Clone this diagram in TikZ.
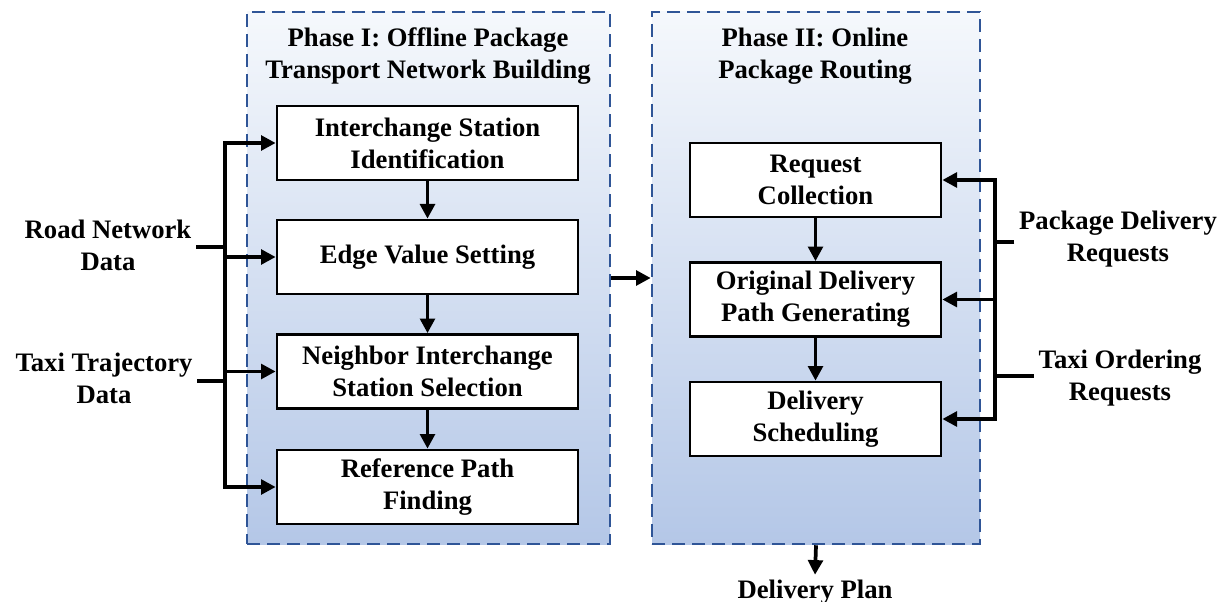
\documentclass[tikz,border=0pt]{standalone}
\usepackage{fontspec}
\setmainfont{Liberation Serif}
\usepackage{xcolor}
\usetikzlibrary{arrows.meta}

\definecolor{phaseline}{HTML}{2F5597}
\definecolor{phasetop}{HTML}{F5F8FC}
\definecolor{phasebot}{HTML}{B4C7E7}

\begin{document}
\begin{tikzpicture}[x=0.75pt, y=-0.75pt,
    every node/.style = {font=\fontsize{20}{24}\selectfont\bfseries, align=center},
    phase/.style      = {draw=phaseline, line width=1.9pt,
                         dash pattern=on 9.75pt off 5.25pt,
                         top color=phasetop, bottom color=phasebot,
                         inner sep=0pt},
    stepbox/.style    = {draw, fill=white, line width=2pt,
                         minimum height=55.5pt, inner sep=2pt},
    wire/.style       = {line width=2.8pt},
    flow/.style       = {wire, -{Triangle[length=11pt, width=11pt]}}]
  \useasboundingbox (0,0) rectangle (1219,602);

% containers
\node[phase, minimum width=272.25pt, minimum height=399pt] (phaseA) at (428.5,278) {};
\node[phase, minimum width=246pt,    minimum height=399pt] (phaseB) at (816,278) {};

\node (titleA) at (428,56) {Phase I: Offline Package\\Transport Network Building};
\node (titleB) at (815,56) {Phase II: Online\\Package Routing};

% phase I
\node[stepbox, minimum width=225.75pt] (ident) at (427.5,143)   {Interchange Station\\Identification};
\node[stepbox, minimum width=225.75pt] (edge)  at (427.5,257)   {Edge Value Setting};
\node[stepbox, minimum width=225.75pt] (nbr)   at (427.5,371.5) {Neighbor Interchange\\Station Selection};
\node[stepbox, minimum width=225.75pt] (ref)   at (427.5,487)   {Reference Path\\Finding};

% phase II
\node[stepbox, minimum width=188.25pt] (collect) at (815.5,180)   {Request\\Collection};
\node[stepbox, minimum width=188.25pt] (orig)    at (815.5,299.5) {Original Delivery\\Path Generating};
\node[stepbox, minimum width=188.25pt] (sched)   at (815.5,419)   {Delivery\\Scheduling};

% inputs and output
\node (road)  at (108,245)  {Road Network\\Data};
\node (traj)  at (104,378)  {Taxi Trajectory\\Data};
\node (pkg)   at (1118,239) {Package Delivery\\Requests};
\node (order) at (1120,378) {Taxi Ordering\\Requests};
\node[anchor=base] (plan) at (815,598) {Delivery Plan};

\coordinate (lbus) at (225,0);
\coordinate (rbus) at (995,0);

\draw[flow] (ident) -- (edge);
\draw[flow] (edge)  -- (nbr);
\draw[flow] (nbr)   -- (ref);
\draw[flow] (collect) -- (orig);
\draw[flow] (orig)    -- (sched);

\draw[wire, {Triangle[length=11pt, width=11pt]}-{Triangle[length=11pt, width=11pt]}]
    (ident.west) -- (ident.west -| lbus) -- (ref.west -| lbus) -- (ref.west);
\foreach \n in {edge,nbr}
    \draw[flow] (\n.west -| lbus) -- (\n.west);
\draw[wire] ([yshift=-1.5pt]road.east) -- ([yshift=-1.5pt]road.east -| lbus);
\draw[wire] ([yshift=-2pt]traj.east)   -- ([yshift=-2pt]traj.east -| lbus);

\draw[wire, {Triangle[length=11pt, width=11pt]}-{Triangle[length=11pt, width=11pt]}]
    (collect.east) -- (collect.east -| rbus) -- (sched.east -| rbus) -- (sched.east);
\draw[flow] (orig.east -| rbus) -- (orig.east);
\draw[wire] ([yshift=-2pt]pkg.west)   -- ([yshift=-2pt]pkg.west -| rbus);
\draw[wire] ([yshift=1.5pt]order.west) -- ([yshift=1.5pt]order.west -| rbus);

\draw[flow] (phaseA.east) -- (phaseB.west);
\draw[flow] (phaseB.south) -- (plan.north);
\end{tikzpicture}
\end{document}
